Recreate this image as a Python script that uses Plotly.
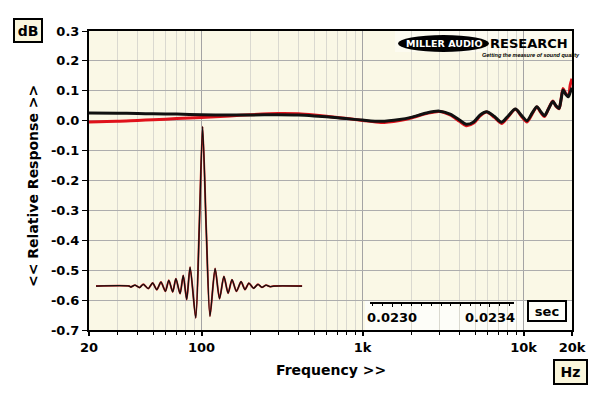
import plotly.graph_objects as go

# ---------------- data ----------------
freq_hz = [20, 30, 40, 50, 70, 100, 150, 200, 300, 400, 500, 700, 1000, 1300, 1700,
           2000, 2500, 3000, 3500, 4000, 4400, 4900, 5400, 5900, 6600, 7300, 8000, 8900,
           9700, 10500, 11300, 12100, 12800, 13500, 14300, 15200, 15900, 16600, 17100,
           17600, 18300, 19000, 19500, 20000]
resp_black_db = [0.026, 0.025, 0.024, 0.023, 0.022, 0.020, 0.019, 0.019, 0.020, 0.019,
                 0.016, 0.010, 0.002, -0.002, 0.004, 0.011, 0.026, 0.032, 0.022, 0.002,
                 -0.012, -0.004, 0.020, 0.030, 0.014, -0.005, 0.015, 0.039, 0.018, 0.000,
                 0.025, 0.047, 0.030, 0.017, 0.040, 0.064, 0.050, 0.041, 0.070, 0.103,
                 0.088, 0.080, 0.095, 0.110]
resp_red_db = [-0.004, -0.002, 0.001, 0.003, 0.007, 0.011, 0.016, 0.020, 0.024, 0.023,
               0.019, 0.011, 0.001, -0.006, 0.001, 0.009, 0.024, 0.031, 0.019, -0.002,
               -0.017, -0.008, 0.017, 0.029, 0.011, -0.009, 0.012, 0.038, 0.015, -0.004,
               0.022, 0.046, 0.027, 0.014, 0.040, 0.066, 0.048, 0.040, 0.072, 0.108,
               0.090, 0.082, 0.120, 0.140]

# impulse response inset (time in microseconds, normalised amplitude)
imp_t_us = [21792, 21927, 21934, 21951, 21969, 21985, 22005, 22023, 22040, 22057,
            22075, 22089, 22105, 22118, 22135, 22148, 22162, 22176, 22199, 22213,
            22227, 22242, 22257, 22278, 22296, 22314, 22331, 22347, 22365, 22384,
            22400, 22416, 22435, 22453, 22469, 22486, 22502, 22518, 22633]
imp_amp = [0, 0, -0.006, 0.006, -0.010, 0.011, -0.016, 0.019, -0.023, 0.025,
           -0.033, 0.036, -0.037, 0.046, -0.048, 0.067, -0.085, 0.119, -0.20, 0.35,
           1.0, 0.35, -0.19, 0.11, -0.08, 0.06, -0.045, 0.04, -0.033, 0.027,
           -0.022, 0.018, -0.014, 0.011, -0.008, 0.006, -0.004, 0, 0]

y_tickvals = [0.3, 0.2, 0.1, 0.0, -0.1, -0.2, -0.3, -0.4, -0.5, -0.6, -0.7]
y_ticktext = ["0.3", "0.2", "0.1", "0.0", "-0.1", "-0.2", "-0.3", "-0.4", "-0.5", "-0.6", "-0.7"]
x_tickvals = [20, 100, 1000, 10000, 20000]
x_ticktext = ["20", "100", "1k", "10k", "20k"]
x_minor_vals = [30, 40, 50, 60, 70, 80, 90, 200, 300, 400, 500, 600, 700, 800, 900,
                2000, 3000, 4000, 5000, 6000, 7000, 8000, 9000]
t_tickvals = [23000, 23400]
t_ticktext = ["0.0230", "0.0234"]

# ---------------- figure ----------------
FONT = "DejaVu Sans, Verdana, sans-serif"
FONT2 = "Liberation Sans, Arial, sans-serif"
BG = "#FAF8E6"

fig = go.Figure()

# frequency responses
fig.add_trace(go.Scatter(x=freq_hz, y=resp_red_db, mode="lines",
                         line=dict(color="#E0121B", width=3, shape="spline", smoothing=0.8),
                         hoverinfo="skip", showlegend=False))
fig.add_trace(go.Scatter(x=freq_hz, y=resp_black_db, mode="lines",
                         line=dict(color="#111111", width=3, shape="spline", smoothing=0.8),
                         hoverinfo="skip", showlegend=False))

# impulse inset
fig.add_trace(go.Scatter(x=imp_t_us, y=imp_amp, xaxis="x2", yaxis="y2", mode="lines",
                         line=dict(color="#D02020", width=1.9, shape="spline", smoothing=0.7),
                         hoverinfo="skip", showlegend=False))
fig.add_trace(go.Scatter(x=imp_t_us, y=imp_amp, xaxis="x2", yaxis="y2", mode="lines",
                         line=dict(color="#111111", width=1.3, shape="spline", smoothing=0.7),
                         hoverinfo="skip", showlegend=False))

# empty trace to bring the time scale-bar axis to life
fig.add_trace(go.Scatter(x=[], y=[], xaxis="x3", yaxis="y3", showlegend=False,
                         hoverinfo="skip"))

# page is rendered with an 8px body margin -> figure placed at (8, 8)
OFF = 8
W, H = 600 - OFF, 399 - OFF
PL, PR, PT, PB = 89, 572, 31, 330          # plot area in page pixels
L, R, T, B = PL - OFF, W - (PR - OFF), PT - OFF, H - (PB - OFF)
pw, ph = PR - PL, PB - PT


def px(xp):
    return (xp - PL) / pw


def py(yp):
    return (PB - yp) / ph


tick_font = dict(family=FONT, size=13, color="black", weight="bold")

fig.update_layout(
    width=W, height=H,
    margin=dict(l=L, r=R, t=T, b=B, pad=0),
    paper_bgcolor="white",
    plot_bgcolor=BG,
    showlegend=False,
    xaxis=dict(type="log", range=[1.30103, 4.30103],
               tickvals=x_tickvals, ticktext=x_ticktext, tickfont=tick_font,
               ticks="outside", ticklen=4, tickwidth=2, tickcolor="black",
               showgrid=True, gridcolor="#A4A4A4", gridwidth=1,
               minor=dict(tickvals=x_minor_vals, ticks="outside", ticklen=3,
                          tickwidth=1, tickcolor="black",
                          showgrid=True, gridcolor="#DAD9D0", gridwidth=1),
               showline=True, linecolor="black", linewidth=2, mirror=True,
               zeroline=False, fixedrange=True),
    yaxis=dict(range=[-0.7, 0.3], tickvals=y_tickvals, ticktext=y_ticktext,
               tickfont=tick_font, ticks="outside", ticklen=5, tickwidth=1,
               tickcolor="black", showgrid=True, gridcolor="#ADADAD", gridwidth=1,
               showline=True, linecolor="black", linewidth=2, mirror=True,
               zeroline=False, fixedrange=True),
    xaxis2=dict(overlaying="x", range=[21763.3, 23734.7], visible=False,
                fixedrange=True),
    yaxis2=dict(overlaying="y", range=[-0.276, 1.601], visible=False,
                fixedrange=True),
    xaxis3=dict(domain=[px(370), px(514)], anchor="y3",
                range=[22910.2, 23498.0], tickvals=t_tickvals, ticktext=t_ticktext,
                tickfont=tick_font, ticks="outside", ticklen=3, tickwidth=1,
                tickcolor="black",
                minor=dict(tick0=23000, dtick=40, ticks="outside", ticklen=2,
                           tickcolor="black"),
                showline=True, linecolor="black", linewidth=2,
                showgrid=False, zeroline=False, fixedrange=True),
    yaxis3=dict(domain=[py(301.5), py(301.5) + 0.002], anchor="x3", visible=False,
                range=[0, 1], fixedrange=True),
)

# background patches behind the logo and under the time scale bar
fig.add_shape(type="rect", xref="paper", yref="paper", x0=px(395), x1=1, y0=py(52), y1=1,
              fillcolor="#FCFBF0", line=dict(width=0), layer="between")
fig.add_shape(type="rect", xref="paper", yref="paper", x0=px(365), x1=1, y0=0, y1=py(300),
              fillcolor="#FDFDF8", line=dict(width=0), layer="between")

# logo
fig.add_shape(type="circle", xref="paper", yref="paper",
              x0=px(398), x1=px(489), y0=py(52), y1=py(35),
              fillcolor="black", line=dict(width=0), layer="above")


def note(xp, yp, text, **kw):
    fig.add_annotation(x=px(xp), y=py(yp), xref="paper", yref="paper", showarrow=False,
                       xanchor="center", yanchor="middle", text=text, **kw)


note(444, 43.5, "<b>MILLER AUDIO</b>", font=dict(family=FONT, size=9.5, color="white"))
note(529, 43.5, "<b>RESEARCH</b>", font=dict(family=FONT, size=13, color="black"))
note(531, 55, "<b><i>Getting the measure of sound quality</i></b>",
     font=dict(family=FONT2, size=5.5, color="black"))

# boxed unit labels
note(28, 30.5, "<b>dB</b>", font=dict(family=FONT, size=14, color="black"),
     bgcolor="#FAF6DC", bordercolor="black", borderwidth=2, borderpad=1,
     width=24, height=19)
note(570.5, 372, "<b>Hz</b>", font=dict(family=FONT, size=14, color="black"),
     bgcolor="#FAF6DC", bordercolor="black", borderwidth=2, borderpad=1,
     width=29, height=20)
note(547, 311, "<b>sec</b>", font=dict(family=FONT, size=13, color="black"),
     bgcolor="#FFFFFA", bordercolor="black", borderwidth=2, borderpad=1,
     width=34, height=16)

# axis titles
note(330.5, 370, "<b>Frequency >></b>", font=dict(family=FONT, size=14, color="black"))
note(33, 186, "<b><< Relative Response >></b>", textangle=-90,
     font=dict(family=FONT, size=14, color="black"))

fig.write_html("out.html")
